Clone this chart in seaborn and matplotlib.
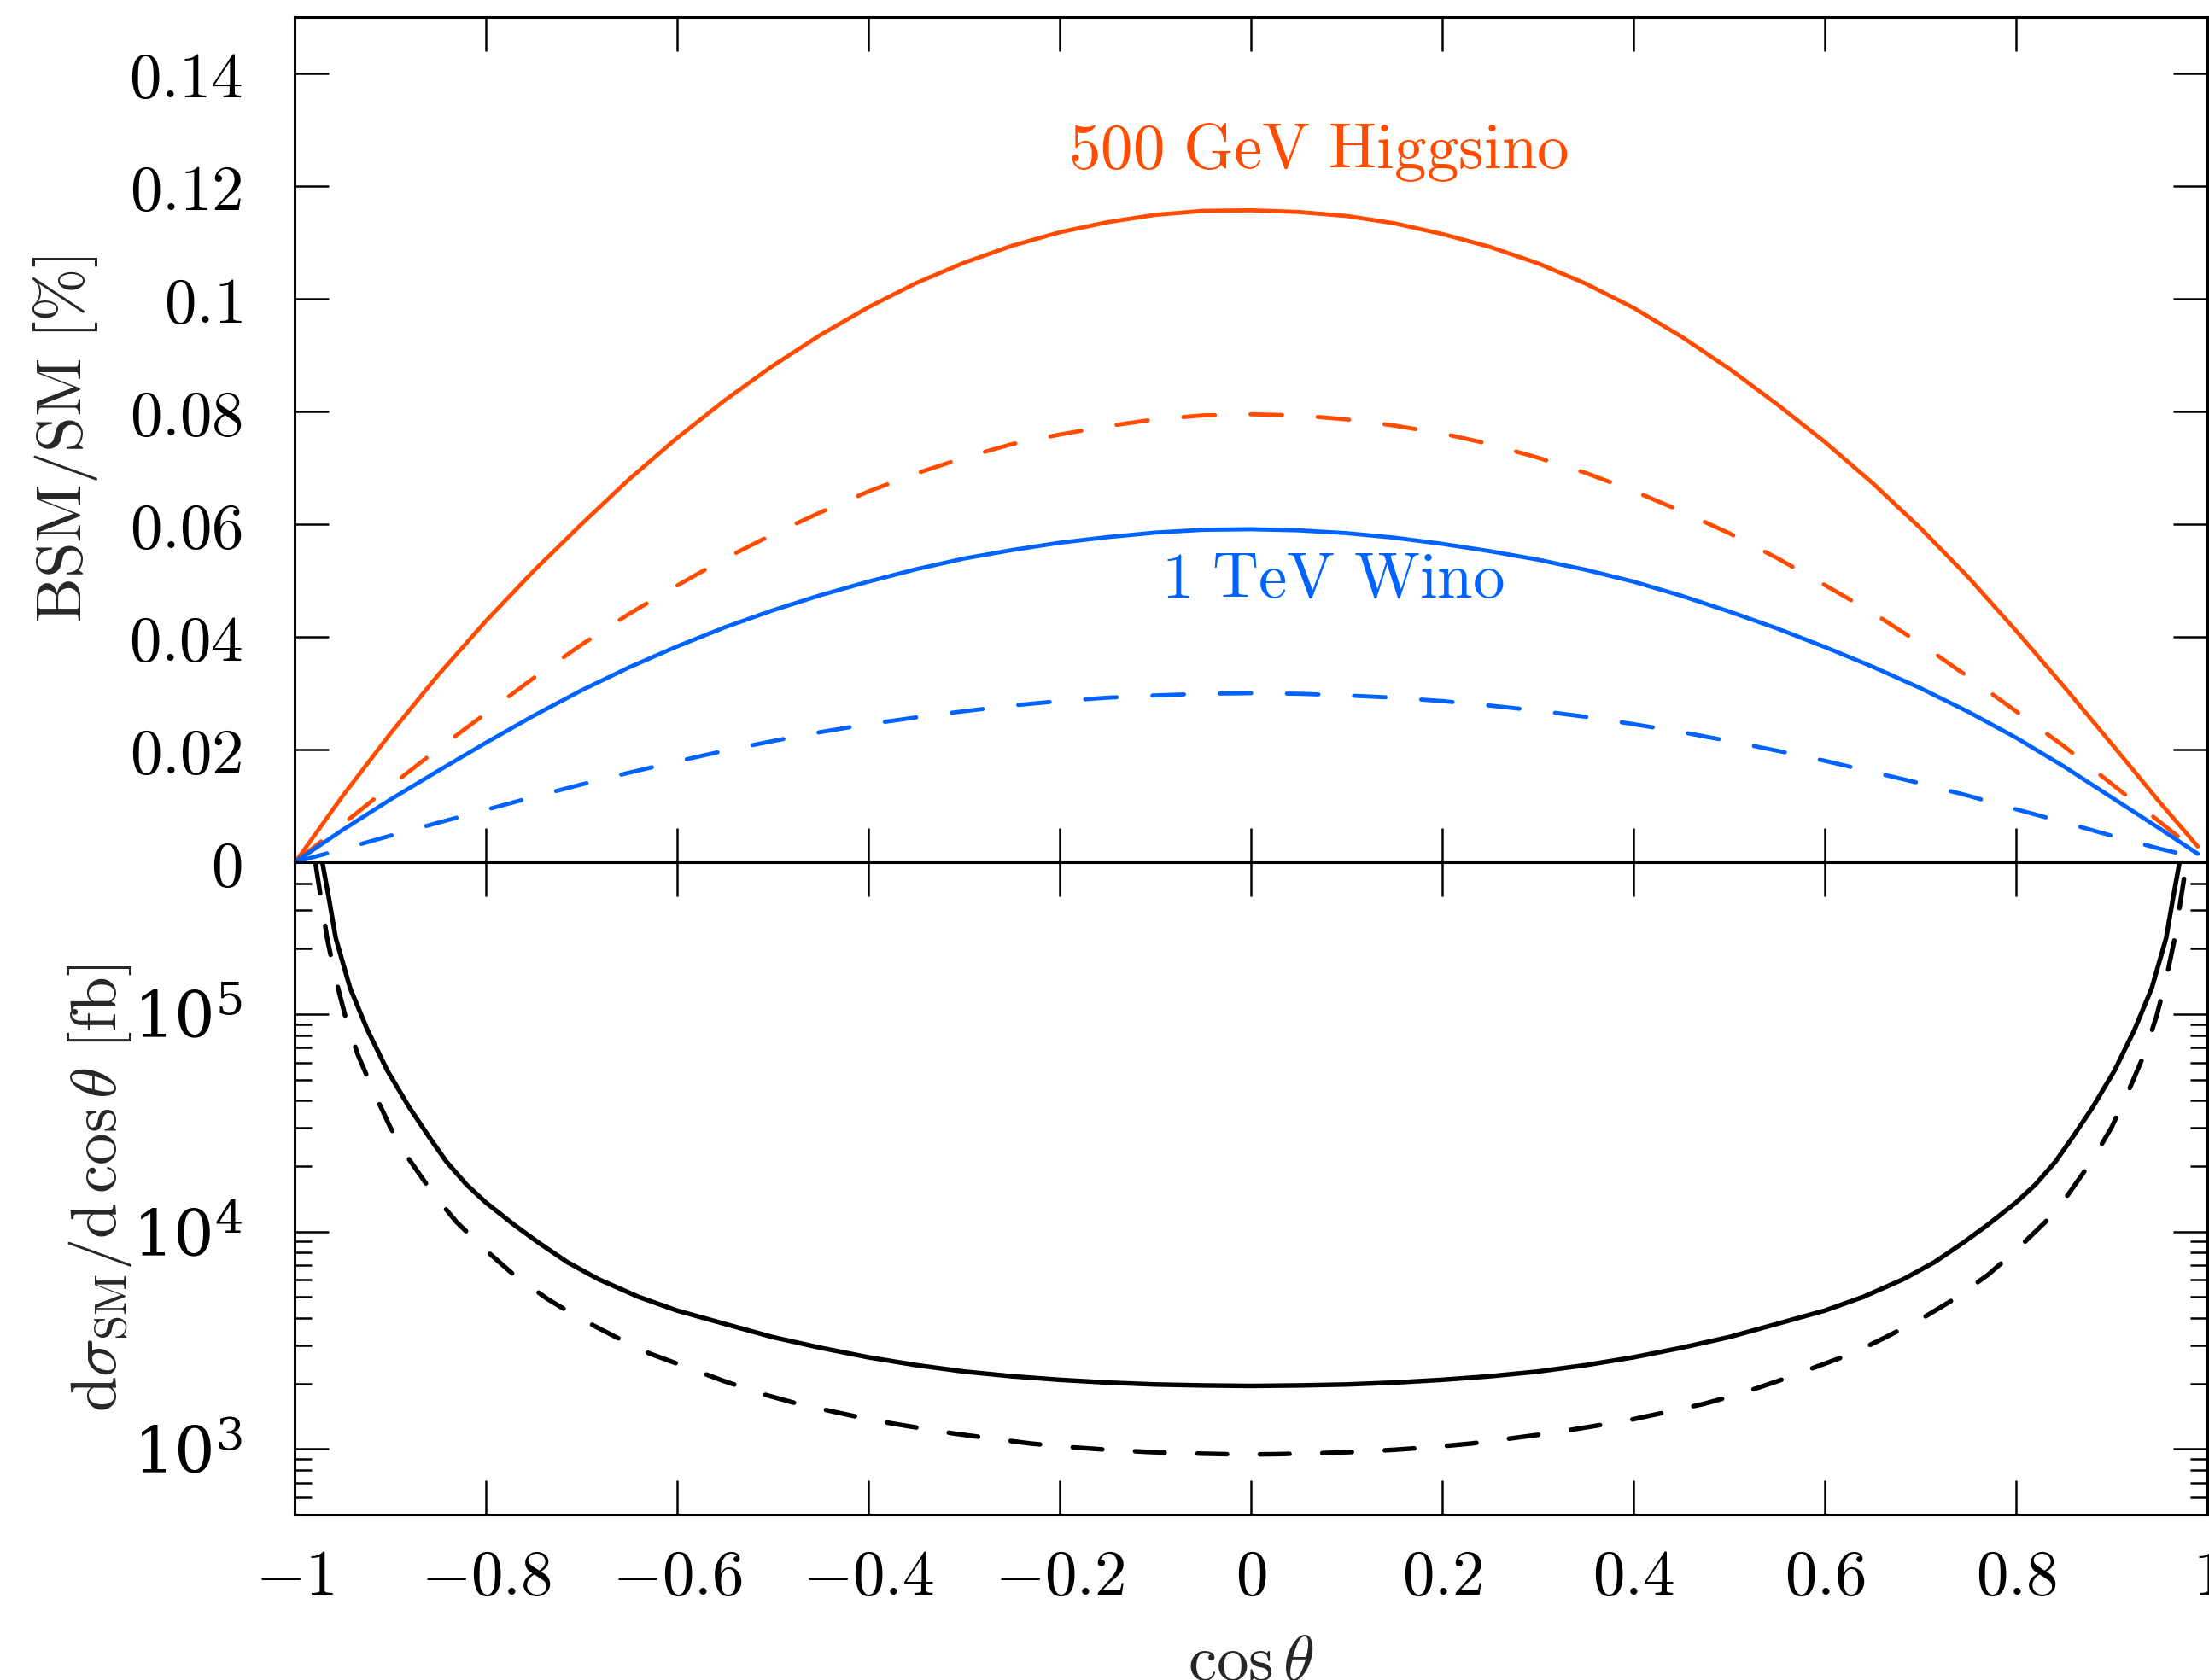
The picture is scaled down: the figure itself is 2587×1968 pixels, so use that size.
import numpy as np
import pandas as pd
import matplotlib
matplotlib.use("Agg")
import matplotlib.pyplot as plt
from matplotlib.ticker import FixedLocator, FixedFormatter, LogLocator, NullFormatter
import seaborn as sns

# ---------------------------------------------------------------------------
# Data: BSM/SM ratio [%] versus cos(theta)
# ---------------------------------------------------------------------------
cos_ratio = [-0.998, -0.95, -0.90, -0.85, -0.80, -0.75, -0.70, -0.65, -0.60, -0.55,
             -0.50, -0.45, -0.40, -0.35, -0.30, -0.25, -0.20, -0.15, -0.10, -0.05,
             0.00, 0.05, 0.10, 0.15, 0.20, 0.25, 0.30, 0.35, 0.40, 0.45,
             0.50, 0.55, 0.60, 0.65, 0.70, 0.75, 0.80, 0.85, 0.90, 0.95, 0.99]

higgsino_solid = [0.0003, 0.0117, 0.0228, 0.0332, 0.0428, 0.0517, 0.0600, 0.0680,
                  0.0753, 0.0820, 0.0881, 0.0936, 0.0985, 0.1028, 0.1064, 0.1094,
                  0.1118, 0.1136, 0.1149, 0.1156, 0.1157, 0.1154, 0.1147, 0.1134,
                  0.1115, 0.1092, 0.1063, 0.1027, 0.0984, 0.0933, 0.0876, 0.0813,
                  0.0746, 0.0673, 0.0593, 0.0506, 0.0411, 0.0312, 0.0210, 0.0107,
                  0.0028]
higgsino_dashed = [0.0002, 0.0067, 0.0135, 0.0201, 0.0264, 0.0327, 0.0386, 0.0441,
                   0.0491, 0.0539, 0.0582, 0.0621, 0.0658, 0.0690, 0.0718, 0.0742,
                   0.0759, 0.0774, 0.0786, 0.0793, 0.0795, 0.0793, 0.0786, 0.0775,
                   0.0761, 0.0742, 0.0718, 0.0691, 0.0659, 0.0623, 0.0584, 0.0540,
                   0.0492, 0.0443, 0.0388, 0.0329, 0.0268, 0.0206, 0.0139, 0.0072,
                   0.0018]
wino_solid = [0.0002, 0.0057, 0.0111, 0.0162, 0.0212, 0.0260, 0.0305, 0.0346,
              0.0383, 0.0417, 0.0447, 0.0474, 0.0498, 0.0520, 0.0539, 0.0554,
              0.0567, 0.0577, 0.0585, 0.0590, 0.0591, 0.0589, 0.0584, 0.0576,
              0.0565, 0.0552, 0.0537, 0.0519, 0.0498, 0.0473, 0.0445, 0.0415,
              0.0382, 0.0347, 0.0309, 0.0267, 0.0221, 0.0170, 0.0115, 0.0060,
              0.0015]
wino_dashed = [0.0001, 0.0023, 0.0047, 0.0070, 0.0093, 0.0116, 0.0138, 0.0159,
               0.0179, 0.0198, 0.0215, 0.0231, 0.0245, 0.0257, 0.0268, 0.0278,
               0.0286, 0.0292, 0.0296, 0.0299, 0.0300, 0.0299, 0.0296, 0.0292,
               0.0286, 0.0278, 0.0269, 0.0258, 0.0245, 0.0231, 0.0215, 0.0198,
               0.0180, 0.0160, 0.0140, 0.0118, 0.0094, 0.0071, 0.0047, 0.0024,
               0.0008]

# ---------------------------------------------------------------------------
# Data: SM differential cross section [fb] versus cos(theta)
# ---------------------------------------------------------------------------
cos_sm_solid = [-0.971, -0.964, -0.957, -0.942, -0.924, -0.903, -0.88, -0.86, -0.841,
                -0.82, -0.80, -0.77, -0.745, -0.715, -0.682, -0.64, -0.60, -0.55,
                -0.50, -0.45, -0.40, -0.35, -0.30, -0.25, -0.20, -0.15, -0.10, -0.05,
                0.00,
                0.05, 0.10, 0.15, 0.20, 0.25, 0.30, 0.35, 0.40, 0.45, 0.50, 0.55,
                0.60, 0.64, 0.682, 0.715, 0.745, 0.77, 0.80, 0.82, 0.841, 0.86,
                0.88, 0.903, 0.924, 0.942, 0.957, 0.964, 0.971]
sm_solid = [5.0e5, 3.39e5, 2.24e5, 1.32e5, 8.5e4, 5.5e4, 3.72e4, 2.75e4, 2.09e4,
            1.64e4, 1.36e4, 1.07e4, 8.9e3, 7.24e3, 6.03e3, 5.0e3, 4.33e3, 3.76e3,
            3.27e3, 2.92e3, 2.64e3, 2.43e3, 2.27e3, 2.16e3, 2.08e3, 2.02e3, 1.98e3,
            1.96e3,
            1.95e3,
            1.96e3, 1.98e3, 2.02e3, 2.08e3, 2.16e3, 2.27e3, 2.43e3, 2.64e3, 2.92e3,
            3.27e3, 3.76e3, 4.33e3, 5.0e3, 6.03e3, 7.24e3, 8.9e3, 1.07e4, 1.36e4,
            1.64e4, 2.09e4, 2.75e4, 3.72e4, 5.5e4, 8.5e4, 1.32e5, 2.24e5, 3.39e5,
            5.0e5]

cos_sm_dashed = [-0.978, -0.972, -0.966, -0.957, -0.947, -0.934, -0.918, -0.900,
                 -0.880, -0.855, -0.831, -0.800, -0.771, -0.736, -0.702, -0.664,
                 -0.629, -0.588, -0.552, -0.511, -0.473, -0.432, -0.393, -0.352,
                 -0.312, -0.271, -0.231, -0.190, -0.149, -0.106, -0.067, -0.025,
                 0.000,
                 0.025, 0.067, 0.106, 0.149, 0.190, 0.231, 0.271, 0.312, 0.352,
                 0.393, 0.432, 0.473, 0.511, 0.552, 0.588, 0.629, 0.664, 0.702,
                 0.736, 0.771, 0.800, 0.831, 0.855, 0.880, 0.900, 0.918, 0.934,
                 0.947, 0.957, 0.966, 0.972, 0.978]
sm_dashed = [4.9e5, 3.31e5, 2.24e5, 1.45e5, 9.8e4, 6.53e4, 4.47e4, 3.02e4,
             2.14e4, 1.49e4, 1.11e4, 8.2e3, 6.34e3, 4.91e3, 3.99e3, 3.27e3,
             2.75e3, 2.36e3, 2.06e3, 1.79e3, 1.61e3, 1.47e3, 1.35e3, 1.26e3,
             1.18e3, 1.117e3, 1.06e3, 1.02e3, 991, 968, 955, 946,
             944,
             946, 955, 968, 991, 1.02e3, 1.06e3, 1.117e3, 1.18e3, 1.26e3,
             1.35e3, 1.47e3, 1.61e3, 1.79e3, 2.06e3, 2.36e3, 2.75e3, 3.27e3, 3.99e3,
             4.91e3, 6.34e3, 8.2e3, 1.11e4, 1.49e4, 2.14e4, 3.02e4, 4.47e4, 6.53e4,
             9.8e4, 1.45e5, 2.24e5, 3.31e5, 4.9e5]

x_ticks = [-1, -0.8, -0.6, -0.4, -0.2, 0, 0.2, 0.4, 0.6, 0.8, 1]
x_tick_labels = [r"$-1$", r"$-0.8$", r"$-0.6$", r"$-0.4$", r"$-0.2$", r"$0$",
                 r"$0.2$", r"$0.4$", r"$0.6$", r"$0.8$", r"$1$"]
ratio_ticks = [0, 0.02, 0.04, 0.06, 0.08, 0.10, 0.12, 0.14]
ratio_tick_labels = [r"$0$", r"$0.02$", r"$0.04$", r"$0.06$", r"$0.08$", r"$0.1$",
                     r"$0.12$", r"$0.14$"]

ORANGE = "#ff4c00"
BLUE = "#0063ff"

# ---------------------------------------------------------------------------
# Style
# ---------------------------------------------------------------------------
sns.set_style("ticks")
FS = 54
plt.rcParams.update({
    "mathtext.fontset": "cm",
    "font.family": ["DejaVu Serif"],
    "font.size": FS,
    "axes.linewidth": 2.2,
    "xtick.direction": "in",
    "ytick.direction": "in",
    "xtick.major.size": 29,
    "ytick.major.size": 29,
    "xtick.minor.size": 14.5,
    "ytick.minor.size": 14.5,
    "xtick.major.width": 1.8,
    "ytick.major.width": 1.8,
    "xtick.minor.width": 1.8,
    "ytick.minor.width": 1.8,
    "xtick.top": True,
    "ytick.right": True,
    "axes.edgecolor": "black",
    "xtick.color": "black",
    "ytick.color": "black",
})

W, H = 2587, 1968
fig = plt.figure(figsize=(W / 100, H / 100), dpi=100)
left, right = 345, 2585
y_top, y_mid, y_bot = 20, 1010, 1774
ax_top = fig.add_axes([left / W, 1 - y_mid / H, (right - left) / W, (y_mid - y_top) / H])
ax_bot = fig.add_axes([left / W, 1 - y_bot / H, (right - left) / W, (y_bot - y_mid) / H])

# ---------------------------------------------------------------------------
# Upper panel: BSM/SM ratio
# ---------------------------------------------------------------------------
ratio_df = pd.DataFrame({
    "cos": cos_ratio,
    "higgsino_solid": higgsino_solid,
    "higgsino_dashed": higgsino_dashed,
    "wino_solid": wino_solid,
    "wino_dashed": wino_dashed,
})

lw_c = 3.5
dash_c = (0, (7.6, 8.6))
for col, color, ls in [("higgsino_solid", ORANGE, "-"),
                       ("higgsino_dashed", ORANGE, dash_c),
                       ("wino_solid", BLUE, "-"),
                       ("wino_dashed", BLUE, dash_c)]:
    sns.lineplot(data=ratio_df, x="cos", y=col, ax=ax_top, color=color,
                 linewidth=lw_c, linestyle=ls, errorbar=None,
                 dash_capstyle="round", solid_capstyle="round",
                 solid_joinstyle="round")

ax_top.text(0.071, 0.1232, r"$\mathrm{500\ GeV\ Higgsino}$", color=ORANGE,
            ha="center", va="baseline", fontsize=FS)
ax_top.text(0.086, 0.0470, r"$\mathrm{1\ TeV\ Wino}$", color=BLUE,
            ha="center", va="baseline", fontsize=FS)

ax_top.set_xlim(-1, 1)
ax_top.set_ylim(0, 0.15)
ax_top.xaxis.set_major_locator(FixedLocator(x_ticks))
ax_top.tick_params(axis="x", labelbottom=False)
ax_top.yaxis.set_major_locator(FixedLocator(ratio_ticks))
ax_top.yaxis.set_major_formatter(FixedFormatter(ratio_tick_labels))
ax_top.tick_params(axis="y", pad=44, labelsize=FS)
ax_top.set_xlabel("")
ax_top.set_ylabel(r"$\mathrm{BSM/SM}\ [\%]$", fontsize=FS)
ax_top.yaxis.set_label_coords(-0.102, 0.5)

# ---------------------------------------------------------------------------
# Lower panel: SM differential cross section
# ---------------------------------------------------------------------------
solid_df = pd.DataFrame({"cos": cos_sm_solid, "xsec": sm_solid})
dashed_df = pd.DataFrame({"cos": cos_sm_dashed, "xsec": sm_dashed})

lw_k = 3.9
sns.lineplot(data=solid_df, x="cos", y="xsec", ax=ax_bot, color="black",
             linewidth=lw_k, errorbar=None, solid_capstyle="round",
             solid_joinstyle="round")
sns.lineplot(data=dashed_df, x="cos", y="xsec", ax=ax_bot, color="black",
             linewidth=lw_k, linestyle=(0, (6.4, 7.1)), errorbar=None,
             dash_capstyle="round")

ax_bot.set_yscale("log")
ax_bot.set_xlim(-1, 1)
ax_bot.set_ylim(500, 5e5)
ax_bot.xaxis.set_major_locator(FixedLocator(x_ticks))
ax_bot.xaxis.set_major_formatter(FixedFormatter(x_tick_labels))
ax_bot.yaxis.set_major_locator(LogLocator(base=10, numticks=10))
ax_bot.yaxis.set_minor_locator(LogLocator(base=10, subs=np.arange(2, 10), numticks=20))
ax_bot.yaxis.set_minor_formatter(NullFormatter())
ax_bot.tick_params(axis="x", pad=27, labelsize=FS)
ax_bot.tick_params(axis="y", which="major", pad=44, labelsize=FS)
ax_bot.set_xlabel(r"$\cos\theta$", fontsize=FS)
ax_bot.xaxis.set_label_coords(0.5, -0.179)
ax_bot.set_ylabel(r"$\mathrm{d}\sigma_{\mathrm{SM}}/\mathrm{d}\,\cos\theta\ [\mathrm{fb}]$",
                  fontsize=FS)
ax_bot.yaxis.set_label_coords(-0.084, 0.5)

for ax in (ax_top, ax_bot):
    for sp in ax.spines.values():
        sp.set_visible(True)
        sp.set_linewidth(2.2)

fig.savefig("out.png", dpi=100)
